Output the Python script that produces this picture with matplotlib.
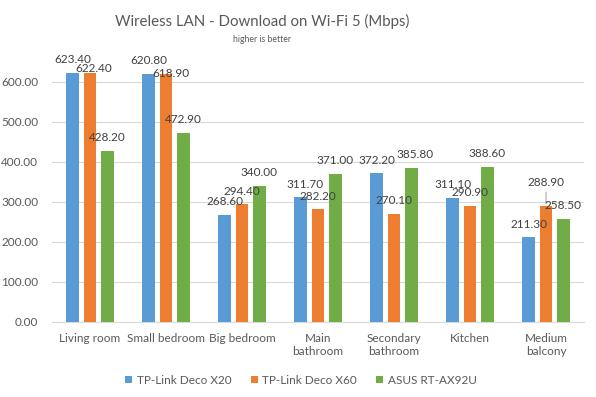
import matplotlib
matplotlib.use("Agg")
import matplotlib.pyplot as plt
import numpy as np

categories = ["Living room", "Small bedroom", "Big bedroom", "Main\nbathroom",
              "Secondary\nbathroom", "Kitchen", "Medium\nbalcony"]
series_names = ["TP-Link Deco X20", "TP-Link Deco X60", "ASUS RT-AX92U"]
deco_x20 = [623.40, 620.80, 268.60, 311.70, 372.20, 311.10, 211.30]
deco_x60 = [622.40, 618.90, 294.40, 282.20, 270.10, 290.90, 288.90]
asus_ax92u = [428.20, 472.90, 340.00, 371.00, 385.80, 388.60, 258.50]
y_ticks = [0, 100, 200, 300, 400, 500, 600]

colors = ["#5B9BD5", "#ED7D31", "#70AD47"]
series = [deco_x20, deco_x60, asus_ax92u]

# label nudges (in pixels) for labels Excel moved to avoid overlap: (series, category) -> (dx, dy)
nudges = {(1, 0): (4, -8), (1, 1): (5, -12), (0, 3): (4, 0), (2, 4): (4, 0), (1, 6): (0, 11)}
leaders = {(1, 6)}

FONT = "Lato"
TXT = "#595959"
px = 0.72  # points per pixel at dpi 100

fig = plt.figure(figsize=(5.96, 3.97), dpi=100)
ax = fig.add_axes([52/596, 1-322/397, (584-52)/596, (322-42)/397])

x = np.arange(len(categories))
bw = 0.171
step = 0.224
for k, (vals, c) in enumerate(zip(series, colors)):
    xs = x + (k - 1) * step
    ax.bar(xs, vals, width=bw, color=c, label=series_names[k], zorder=3)
    for i, v in enumerate(vals):
        dx, dy = nudges.get((k, i), (0, 0))
        kw = {}
        if (k, i) in leaders:
            kw["arrowprops"] = dict(arrowstyle="-", color="#A6A6A6", lw=0.8,
                                    shrinkA=1, shrinkB=2)
        ax.annotate(f"{v:.2f}", xy=(xs[i], v), xytext=(dx*px, (13 + dy)*px),
                    textcoords="offset points", ha="center", va="center",
                    fontsize=8.5, color="#404040", family=FONT, zorder=4, **kw)

ax.set_xlim(-0.5, len(categories) - 0.5)
ax.set_ylim(0, 700)
ax.set_yticks(y_ticks)
ax.set_yticklabels([f"{t:.2f}" for t in y_ticks], family=FONT, fontsize=8.5, color=TXT)
ax.set_xticks(x)
ax.set_xticklabels(categories, family=FONT, fontsize=8.5, color=TXT, linespacing=1.25)
ax.tick_params(axis="both", length=0)
ax.tick_params(axis="y", pad=10)
ax.tick_params(axis="x", pad=8)
ax.grid(axis="y", color="#D9D9D9", lw=0.8, zorder=0)
for s in ["top", "right", "left"]:
    ax.spines[s].set_visible(False)
ax.spines["bottom"].set_color("#D9D9D9")
ax.spines["bottom"].set_linewidth(0.8)
ax.spines["bottom"].set_zorder(1)

fig.text(262/596, 1-21/397, "Wireless LAN - Download on Wi-Fi 5 (Mbps)", ha="center",
         va="center", fontsize=10.8, color=TXT, family=FONT)
fig.text(262/596, 1-39/397, "higher is better", ha="center", va="center",
         fontsize=6.2, color=TXT, family=FONT)

leg = fig.legend(loc="center", bbox_to_anchor=(301/596, 1-380/397), ncol=3, frameon=False,
                 prop={"family": FONT, "size": 8.5}, handlelength=0.6, handleheight=0.6,
                 handletextpad=0.4, columnspacing=1.6)
for t in leg.get_texts():
    t.set_color(TXT)

fig.savefig("out.png", dpi=100)
